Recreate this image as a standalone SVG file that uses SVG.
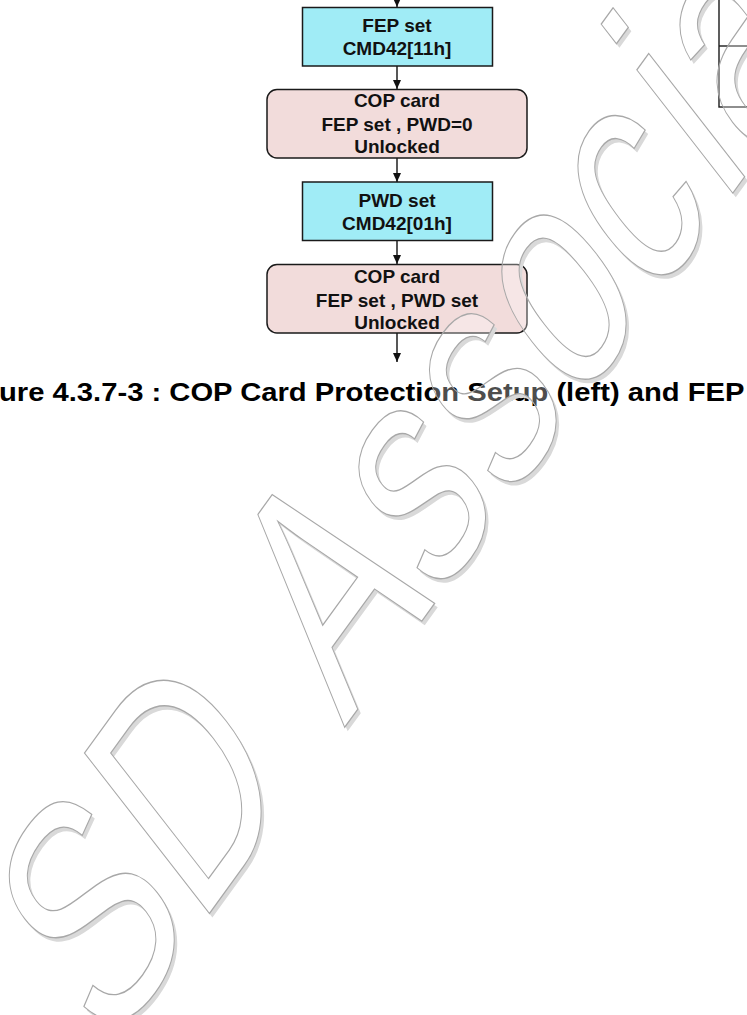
<svg xmlns="http://www.w3.org/2000/svg" width="747" height="1015" viewBox="0 0 747 1015">
<style>
.proc{fill:#a0ecf6;stroke:#1a1a1a;stroke-width:1.5}
.state{fill:#f2dcdb;stroke:#1a1a1a;stroke-width:1.5}
.lbl{font-family:"Liberation Sans",Arial,sans-serif;font-weight:bold;font-size:19px;fill:#111;text-anchor:middle}
.conn{stroke:#111;stroke-width:1.4;fill:none;marker-end:url(#arr)}
.cap{font-family:"Liberation Sans",Arial,sans-serif;font-weight:bold;font-size:26.5px;fill:#000}
.wm{font-family:"Liberation Sans",Arial,sans-serif;font-size:100px}
.edge{fill:none;stroke:#1a1a1a;stroke-width:1.4}
</style>
<defs>
<marker id="arr" markerUnits="userSpaceOnUse" viewBox="0 0 9 8" refX="9" refY="4" markerWidth="9" markerHeight="8" orient="auto"><path d="M0,0L9,4L0,8z" fill="#111"/></marker>
<text id="wmText" class="wm" transform="matrix(1.358 -1.869 1.816 2.332 209 914)" x="-74.6 -7.9 64.3 99.7 167 219 269 325 379 401" y="0">SD Associa</text>
<mask id="wmMask" maskUnits="userSpaceOnUse" x="0" y="0" width="747" height="1015">
<rect width="747" height="1015" fill="#fff"/>
<use href="#wmText" fill="#000"/>
</mask>
</defs>
<rect width="747" height="1015" fill="#fff"/>

<g id="connectors">
<line class="conn" x1="397" y1="-6" x2="397" y2="7"/>
<line class="conn" x1="397" y1="66" x2="397" y2="89"/>
<line class="conn" x1="397" y1="158" x2="397" y2="182"/>
<line class="conn" x1="397" y1="241" x2="397" y2="264"/>
<line class="conn" x1="397" y1="333" x2="397" y2="362"/>
</g>

<g id="fep-set">
<rect class="proc" x="302.5" y="7.5" width="190" height="58.5"/>
<text class="lbl" x="397" y="31.8">FEP set</text>
<text class="lbl" x="397" y="55">CMD42[11h]</text>
</g>

<g id="cop-fep-pwd0">
<rect class="state" x="267" y="89.5" width="260" height="68.5" rx="10" ry="10"/>
<text class="lbl" x="397" y="107.3">COP card</text>
<text class="lbl" x="397" y="130.5">FEP set , PWD=0</text>
<text class="lbl" x="397" y="153.3">Unlocked</text>
</g>

<g id="pwd-set">
<rect class="proc" x="302.5" y="182" width="190" height="58.5"/>
<text class="lbl" x="397" y="206.5">PWD set</text>
<text class="lbl" x="397" y="229.8">CMD42[01h]</text>
</g>

<g id="cop-fep-pwdset">
<rect class="state" x="267" y="264.5" width="260" height="68.5" rx="10" ry="10"/>
<text class="lbl" x="397" y="283.3">COP card</text>
<text class="lbl" x="397" y="306.5">FEP set , PWD set</text>
<text class="lbl" x="397" y="329">Unlocked</text>
</g>

<g id="right-node">
<rect class="edge" x="719" y="-10" width="60" height="117"/>
<line class="edge" x1="719" y1="46" x2="747" y2="46"/>
</g>

<g id="caption">
<text class="cap" x="-1" y="401" textLength="745.5" lengthAdjust="spacingAndGlyphs">ure 4.3.7-3 : COP Card Protection Setup (left) and FEP</text>
</g>

<g id="watermark">
<g mask="url(#wmMask)"><use href="#wmText" transform="translate(3,4)" fill="#d9d9d9"/></g>
<use href="#wmText" fill="#fff" fill-opacity="0.3" stroke="#a8a8a8" stroke-width="0.45"/>
</g>
</svg>
